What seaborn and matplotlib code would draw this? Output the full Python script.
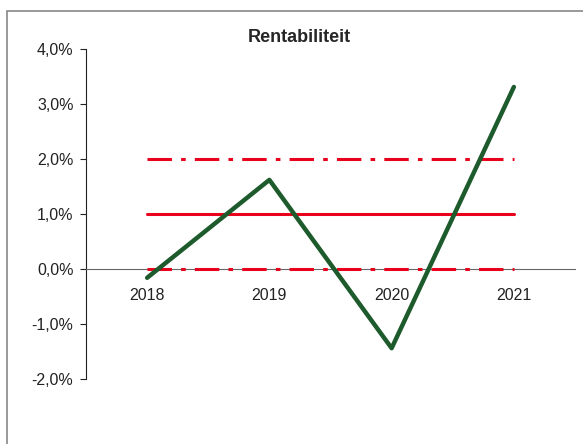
import pandas as pd
import seaborn as sns
import matplotlib.pyplot as plt
from matplotlib.patches import Rectangle
from matplotlib.ticker import FuncFormatter, FixedLocator

years = ['2018', '2019', '2020', '2021']
rentabiliteit = [-0.16, 1.62, -1.44, 3.31]
norm = [1.0, 1.0, 1.0, 1.0]
boven = [2.0, 2.0, 2.0, 2.0]
onder = [0.0, 0.0, 0.0, 0.0]

df = pd.DataFrame({'x': range(len(years)), 'rent': rentabiliteit,
                   'norm': norm, 'boven': boven, 'onder': onder})

sns.set_style('white')
plt.rcParams['font.family'] = ['Liberation Sans', 'DejaVu Sans']

fig = plt.figure(figsize=(5.83, 4.44), dpi=100)
ax = fig.add_axes([86 / 583, 1 - 379 / 444, (575 - 86) / 583, (379 - 49) / 444])

red = '#E8001C'
green = '#1D5A2C'
dash_dot = (8, 3, 1.5, 3)

sns.lineplot(data=df, x='x', y='norm', ax=ax, color=red, lw=2.2, zorder=3)
sns.lineplot(data=df, x='x', y='boven', ax=ax, color=red, lw=2.2, zorder=3)
sns.lineplot(data=df, x='x', y='onder', ax=ax, color=red, lw=2.2, zorder=3)
for ln in ax.lines[1:3]:
    ln.set_dashes(dash_dot)
sns.lineplot(data=df, x='x', y='rent', ax=ax, color=green, lw=3.2, zorder=4)

ax.set_xlim(-0.5, 3.5)
ax.set_ylim(-2, 4)
ax.set_yticks([-2, -1, 0, 1, 2, 3, 4])
ax.yaxis.set_major_formatter(FuncFormatter(lambda v, p: f'{v:.1f}%'.replace('.', ',')))
ax.set_xticks(range(len(years)))
ax.set_xticklabels(years)
ax.xaxis.set_minor_locator(FixedLocator([-0.5, 0.5, 1.5, 2.5, 3.5]))
ax.tick_params(axis='x', which='major', length=0, pad=14, labelsize=11.5, colors='#222222')
ax.tick_params(axis='x', which='minor', length=5, width=0.8, direction='out', color='#555555')
ax.tick_params(axis='y', length=4, width=0.8, direction='out', labelsize=11.5, pad=5,
               colors='#222222', left=True)
ax.set_xlabel('')
ax.set_ylabel('')

for s in ['top', 'right']:
    ax.spines[s].set_visible(False)
ax.spines['bottom'].set_position(('data', 0))
ax.spines['bottom'].set_color('#666666')
ax.spines['bottom'].set_linewidth(0.8)
ax.spines['left'].set_color('#222222')
ax.spines['left'].set_linewidth(0.8)

fig.text(299 / 583, 1 - 38 / 444, 'Rentabiliteit', ha='center', va='center',
         fontsize=13, fontweight='bold')

fig.patches.append(Rectangle((7 / 583, -0.1), 1.2, 1 - 11 / 444 + 0.1,
                             transform=fig.transFigure, fill=False,
                             edgecolor='#888888', lw=1.2))

fig.savefig('out.png', dpi=100)
